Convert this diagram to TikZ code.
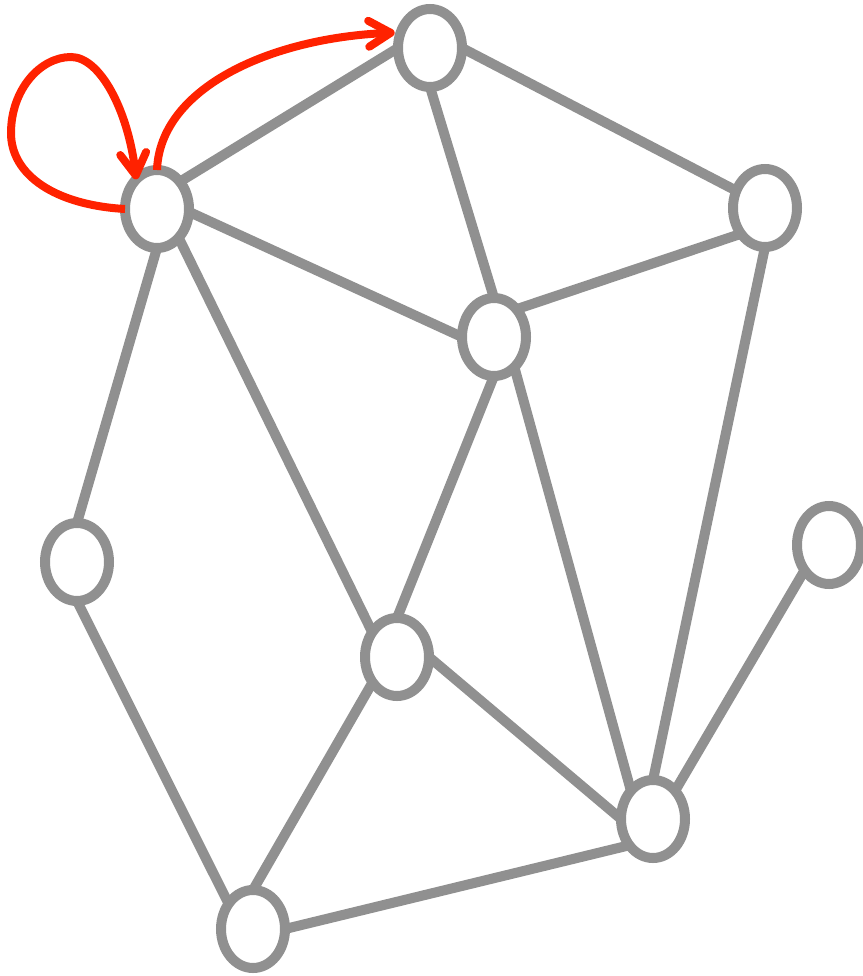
\documentclass[tikz,border=0pt]{standalone}
\usetikzlibrary{arrows.meta,shapes.geometric}
\definecolor{edgegray}{HTML}{909090}
\definecolor{loopred}{HTML}{FF2200}
\tikzset{
  vtx/.style={ellipse,draw=edgegray,fill=white,line width=10pt,minimum width=64pt,minimum height=78pt,inner sep=0pt,outer sep=0pt},
  edge/.style={draw=edgegray,line width=10pt},
  redarrow/.style={draw=loopred,line width=8pt,-{Straight Barb[length=22pt,width=26pt,round]}}
}
\begin{document}
\begin{tikzpicture}[x=1pt,y=-1pt]
\useasboundingbox (0,0) rectangle (862,976);
\node[vtx] (A) at (157,209) {};
\node[vtx] (B) at (430,48) {};
\node[vtx] (C) at (765,208) {};
\node[vtx] (D) at (494,337) {};
\node[vtx] (E) at (77,562) {};
\node[vtx] (F) at (829,545) {};
\node[vtx] (G) at (397,657) {};
\node[vtx] (H) at (653,819) {};
\node[vtx] (I) at (253,929) {};
\path[edge] (A.50) -- (B.west);
\path[edge] (A.-5) -- (D.west);
\path[edge] (A.south) -- (E.north);
\path[edge] (A.-53) -- (G.135);
\path[edge] (B.south) -- (D.north);
\path[edge] (B.east) -- (C.149);
\path[edge] (C.227) -- (D.51);
\path[edge] (C.south) -- (H.north);
\path[edge] (D.south) -- (G.north);
\path[edge] (D.-56) -- (H.128);
\path[edge] (E.south) -- (I.134);
\path[edge] (G.226) -- (I.north);
\path[edge] (G.east) -- (H.west);
\path[edge] (H.228) -- (I.east);
\path[edge] (F.226) -- (H.52);
\path[redarrow] (A.west) .. controls (55,205) and (11,175) .. (11,133)
  .. controls (11,90) and (40,57) .. (71,57)
  .. controls (100,57) and (128,110) .. (A.125);
\path[redarrow,shorten >=6pt] (A.north) .. controls (160,88) and (270,38) .. (B.152);
\end{tikzpicture}
\end{document}
